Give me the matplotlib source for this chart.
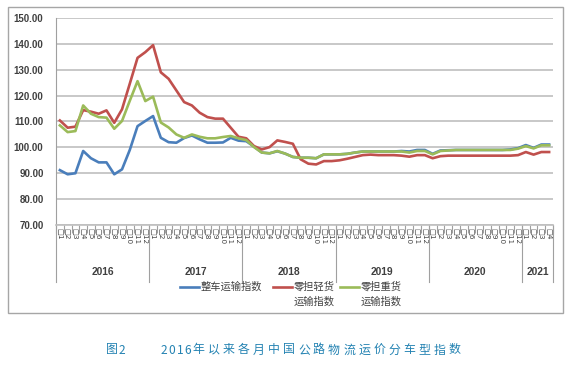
import numpy as np
import matplotlib.pyplot as plt
from matplotlib.lines import Line2D
from matplotlib.patches import Rectangle
import matplotlib.transforms as mtransforms

plt.rcParams['font.family'] = ['Liberation Sans', 'Noto Sans CJK SC', 'DejaVu Sans']

# 2016-01 .. 2021-04
years = ['2016', '2017', '2018', '2019', '2020', '2021']
months_per_year = [12, 12, 12, 12, 12, 4]
month_labels = [str(m) for n in months_per_year for m in range(1, n + 1)]

series_names = ['整车运输指数', '零担轻货\n运输指数', '零担重货\n运输指数']
series_colors = ['#4A7EBB', '#C0504D', '#9BBB59']

whole_truck = [
    91.2, 89.6, 90.0, 98.6, 95.8, 94.2, 94.2, 89.6, 91.5, 99.0, 108.2, 110.2,
    112.1, 103.7, 102.0, 101.8, 103.6, 104.6, 103.1, 101.8, 101.8, 101.9, 103.7, 102.6,
    102.4, 100.3, 98.0, 97.7, 98.5, 97.6, 96.3, 96.0, 96.0, 95.8, 97.3, 97.3,
    97.3, 97.5, 98.0, 98.4, 98.4, 98.4, 98.4, 98.4, 98.6, 98.4, 99.0, 99.0,
    97.5, 98.8, 98.9, 99.0, 99.0, 99.0, 99.0, 99.0, 99.0, 99.0, 99.2, 99.7,
    100.9, 99.8, 101.1, 101.1,
]
light_ltl = [
    110.4, 107.6, 108.0, 114.4, 113.8, 113.0, 114.3, 109.5, 114.7, 124.6, 134.6, 136.8,
    139.5, 129.0, 126.5, 122.0, 117.5, 116.2, 113.4, 111.7, 111.1, 111.1, 107.6, 104.1,
    103.5, 100.5, 99.2, 100.1, 102.7, 102.1, 101.4, 95.4, 93.7, 93.4, 94.7, 94.7,
    95.0, 95.6, 96.3, 97.0, 97.2, 97.0, 97.0, 97.0, 96.8, 96.4, 97.0, 97.0,
    95.8, 96.6, 96.8, 96.8, 96.8, 96.8, 96.8, 96.8, 96.8, 96.8, 96.8, 97.0,
    98.2, 97.2, 98.2, 98.2,
]
heavy_ltl = [
    108.5, 105.9, 106.3, 116.2, 113.0, 111.7, 111.5, 107.2, 110.2, 118.0, 125.6, 117.9,
    119.6, 109.6, 107.7, 105.0, 103.7, 105.0, 104.1, 103.5, 103.5, 104.0, 104.4, 103.5,
    102.8, 100.1, 98.0, 97.7, 98.6, 97.6, 96.3, 96.0, 96.0, 95.8, 97.3, 97.3,
    97.3, 97.5, 98.0, 98.4, 98.4, 98.4, 98.4, 98.4, 98.4, 98.0, 98.6, 98.6,
    97.3, 98.6, 98.8, 99.0, 99.0, 99.0, 99.0, 99.0, 99.0, 99.0, 99.0, 99.5,
    100.5, 99.6, 100.8, 100.8,
]
y_ticks = [70, 80, 90, 100, 110, 120, 130, 140, 150]

caption_head = '图2'
caption_body = '2016年以来各月中国公路物流运价分车型指数'

W, H = 573, 367
fig = plt.figure(figsize=(W / 100, H / 100), dpi=100)


def fx(px):
    return px / W


def fy(py):
    return 1 - py / H


# outer chart frame
fig.patches.append(Rectangle((fx(8), fy(313)), fx(563) - fx(8), fy(7) - fy(313),
                             transform=fig.transFigure, fill=False,
                             edgecolor='#A6A6A6', linewidth=1.0))

ax = fig.add_axes([fx(56), fy(225), fx(553) - fx(56), fy(18) - fy(225)])

x = np.arange(len(month_labels))
for vals, col in zip([whole_truck, light_ltl, heavy_ltl], series_colors):
    ax.plot(x, vals, color=col, linewidth=1.9, solid_joinstyle='round')

ax.set_xlim(-0.5, len(month_labels) - 0.5)
ax.set_ylim(70, 150)
ax.set_yticks(y_ticks)
ax.set_yticklabels([f'{v:.2f}' for v in y_ticks], fontsize=7, fontweight='bold',
                   color='#404040')
ax.tick_params(axis='y', length=0, pad=9)
ax.grid(axis='y', color='#BFBFBF', linewidth=1.2)
ax.set_axisbelow(True)
for s in ['top', 'right']:
    ax.spines[s].set_visible(False)
ax.spines['left'].set_color('#A0A0A0')
ax.spines['bottom'].set_color('#BFBFBF')
ax.spines['bottom'].set_linewidth(1.2)

# month ticks at category boundaries, labels at centres
ax.set_xticks(np.arange(-0.5, len(month_labels)), minor=True)
ax.tick_params(axis='x', which='minor', length=6, color='#A0A0A0', width=0.8)
ax.set_xticks(x)
ax.set_xticklabels(['\u25a1' + m for m in month_labels], rotation=270,
                   fontsize=5.2, color='#404040', family=['DejaVu Sans'])
ax.tick_params(axis='x', which='major', length=0, pad=2.5)
for lab in ax.get_xticklabels():
    lab.set_va('top')
    lab.set_ha('center')

# year groups
trans = mtransforms.blended_transform_factory(ax.transData, ax.transAxes)
ah = 225 - 18
start = 0
bounds = [-0.5]
for yr, n in zip(years, months_per_year):
    ax.text(start + (n - 1) / 2, -(272 - 225) / ah, yr, transform=trans,
            ha='center', va='center', fontsize=7.4, fontweight='bold', color='#404040')
    start += n
    bounds.append(start - 0.5)
for b in bounds:
    ax.plot([b, b], [0, -(282 - 225) / ah], transform=trans, color='#A0A0A0',
            linewidth=0.8, clip_on=False)

# legend
leg_x = [180, 273, 340]
for name, col, lx in zip(series_names, series_colors, leg_x):
    fig.add_artist(Line2D([fx(lx), fx(lx + 19)], [fy(287), fy(287)],
                          transform=fig.transFigure, color=col, linewidth=1.9))
    for k, line in enumerate(name.split('\n')):
        fig.text(fx(lx + 21), fy(287 + 15 * k), line, ha='left', va='center',
                 fontsize=7.4, color='#404040', family=['Noto Sans CJK SC'])

# caption, placed char by char to mimic the letter spacing
cap_color = '#2382B2'
cx = 106
for ch in caption_head:
    fig.text(fx(cx), fy(350), ch, ha='left', va='center', fontsize=8.6,
             color=cap_color, style='italic', family=['Noto Sans CJK SC'])
    cx += 12.5
cx = 161
for ch in caption_body:
    fig.text(fx(cx), fy(350), ch, ha='left', va='center', fontsize=8.6,
             color=cap_color, style='italic', family=['Noto Sans CJK SC'])
    cx += 7.8 if ch.isdigit() else 15.1

fig.savefig('out.png', dpi=100)
